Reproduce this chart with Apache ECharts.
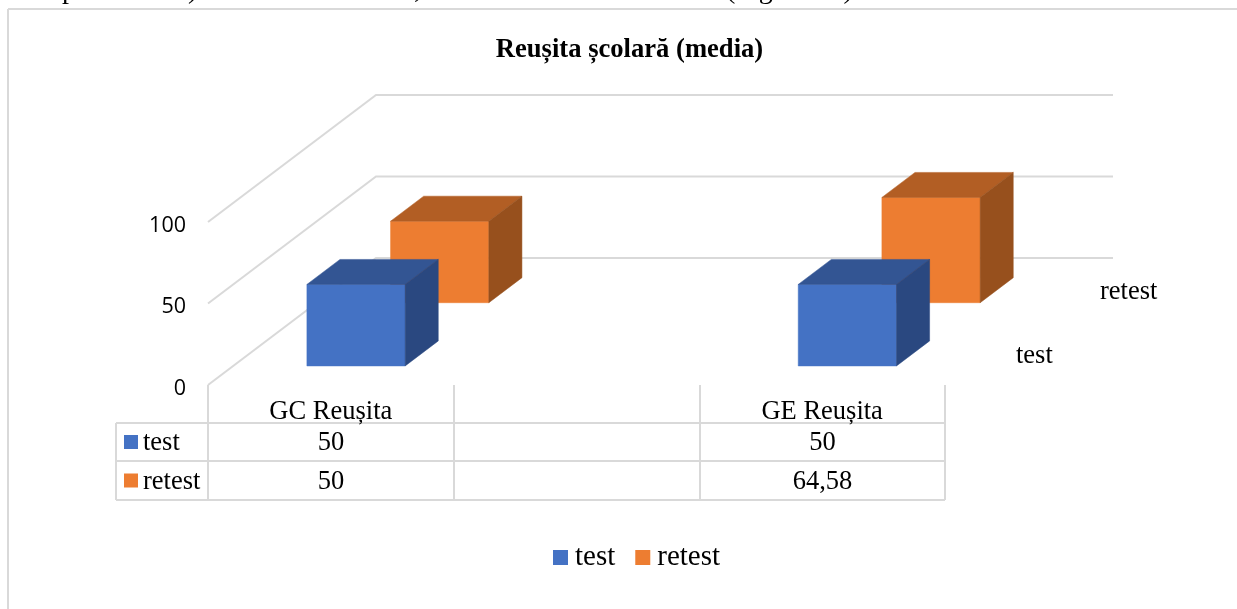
<!DOCTYPE html>
<html><head><meta charset="utf-8">
<style>html,body{margin:0;padding:0;background:#fff}#c{width:1237px;height:609px}</style>
<script src="https://cdn.jsdelivr.net/npm/echarts@6/dist/echarts.min.js"></script>
</head><body><div id="c"></div>
<script>
var titleText = 'Reușita școlară (media)';
var categories = ['GC Reușita', '', 'GE Reușita'];
var seriesNames = ['test', 'retest'];
var testValues = [50, null, 50];
var retestValues = [50, null, 64.58];
var yTicks = [0, 50, 100];

var SERIF = '"Liberation Serif","Times New Roman",serif';
var LINE = '#d9d9d9';
var DX = 168, DY = -127;               // full floor depth on screen
var BAR_W = 0.4, BAR_D = 0.197;        // bar width (of band) and depth (of floor)

function poly(points, fill){
  return {type:'polygon', shape:{points:points}, style:{fill:fill, stroke:fill, lineWidth:0.5}};
}
function cuboid(depth, front, top, side){
  return function(params, api){
    var c = api.coord([api.value(0), api.value(1)]);
    var z = api.coord([api.value(0), 0]);
    var w = api.size([1,0])[0] * BAR_W;
    var ox = DX*depth, oy = DY*depth, dx = DX*BAR_D, dy = DY*BAR_D;
    var l = c[0]+ox-w/2, r = c[0]+ox+w/2, t = c[1]+oy, b = z[1]+oy;
    return {type:'group', children:[
      poly([[l,t],[r,t],[r,b],[l,b]], front),
      poly([[l,t],[l+dx,t+dy],[r+dx,t+dy],[r,t]], top),
      poly([[r,t],[r+dx,t+dy],[r+dx,b+dy],[r,b]], side)
    ]};
  };
}
function points(values){
  var out = [];
  values.forEach(function(v,i){ if (v !== null) out.push([i, v]); });
  return out;
}
function wall(params, api){
  var v = api.value(0);
  var a = api.coord([0, v]);
  var left = params.coordSys.x, right = left + params.coordSys.width;
  return {type:'polyline', shape:{points:[[left,a[1]],[left+DX,a[1]+DY],[right+DX,a[1]+DY]]},
    style:{stroke:LINE, lineWidth:2, fill:null}};
}

// ---- table and frame ----
var colX = [208, 454, 700, 945], rowY = [423, 461, 500], tableLeft = 116;
var tableTop = 385;
var g = [];
function seg(x1,y1,x2,y2){ g.push({type:'line', shape:{x1:x1,y1:y1,x2:x2,y2:y2}, style:{stroke:LINE, lineWidth:2}, silent:true}); }
function txt(t,x,y,align){ g.push({type:'text', x:x, y:y, style:{text:t, fill:'#000', font:'26.5px '+SERIF, textAlign:align||'center', textVerticalAlign:'middle'}, silent:true}); }
seg(8,9,1237,9); seg(8,9,8,609);
colX.forEach(function(x){ seg(x,tableTop,x,rowY[2]); });
rowY.forEach(function(y){ seg(tableLeft,y,colX[3],y); });
seg(tableLeft,rowY[0],tableLeft,rowY[2]);
var rows = [testValues, retestValues], swatch = ['#4472C4','#ED7D31'];
rows.forEach(function(vals,r){
  var cy = (rowY[r]+rowY[r+1])/2;
  g.push({type:'rect', shape:{x:124,y:cy-7,width:14,height:14}, style:{fill:swatch[r]}, silent:true});
  txt(seriesNames[r], 143, cy+1.5, 'left');
  vals.forEach(function(v,i){
    if (v !== null) txt(String(v).replace('.',','), (colX[i]+colX[i+1])/2, cy+1.5);
  });
});
txt(seriesNames[1], 1100, 292, 'left');
txt(seriesNames[0], 1016, 356, 'left');
// clipped line of body text above the chart
[['p',62],[')',188],[',',414],['(Figura 56).',726]].forEach(function(f){
  g.push({type:'text', x:f[1], y:5, style:{text:f[0], fill:'#000', font:'28px '+SERIF, textAlign:'left', textVerticalAlign:'bottom'}, silent:true});
});

var chart = echarts.init(document.getElementById('c'), null, {renderer:'canvas'});
chart.setOption({
  animation:false,
  backgroundColor:'#fff',
  title:{text:titleText, left:624.5, top:32, textAlign:'center', textStyle:{fontFamily:SERIF, fontSize:26.6, fontWeight:'bold', color:'#000'}},
  legend:{data:seriesNames, left:548, top:538, icon:'rect', itemWidth:15, itemHeight:15, itemGap:20,
    textStyle:{fontFamily:SERIF, fontSize:29, color:'#000', padding:[0,0,0,2]}},
  grid:{left:208, top:222, width:737, height:163, containLabel:false},
  xAxis:{type:'category', data:categories, axisLine:{show:false}, axisTick:{show:false},
    axisLabel:{interval:0, color:'#000', fontFamily:SERIF, fontSize:26.5, margin:14}, splitLine:{show:false}},
  yAxis:{type:'value', min:0, max:100, interval:50, axisLine:{show:false}, axisTick:{show:false},
    axisLabel:{margin:22, formatter:'{a|{value}}',
      rich:{a:{color:'#000', fontFamily:'Open Sans', fontSize:21.5, padding:[7,0,0,0]}}}, splitLine:{show:false}},
  graphic:g,
  series:[
    {type:'custom', name:'walls', silent:true, renderItem:wall, data:yTicks.map(function(v){return [v];}), encode:{y:0}, clip:false, z:1},
    {type:'custom', name:seriesNames[1], itemStyle:{color:'#ED7D31'}, renderItem:cuboid(0.648,'#ED7D31','#B25E24','#97501D'), data:points(retestValues), encode:{x:0,y:1}, clip:false, z:2},
    {type:'custom', name:seriesNames[0], itemStyle:{color:'#4472C4'}, renderItem:cuboid(0.15,'#4472C4','#335593','#2A4880'), data:points(testValues), encode:{x:0,y:1}, clip:false, z:3}
  ]
});
</script></body></html>
